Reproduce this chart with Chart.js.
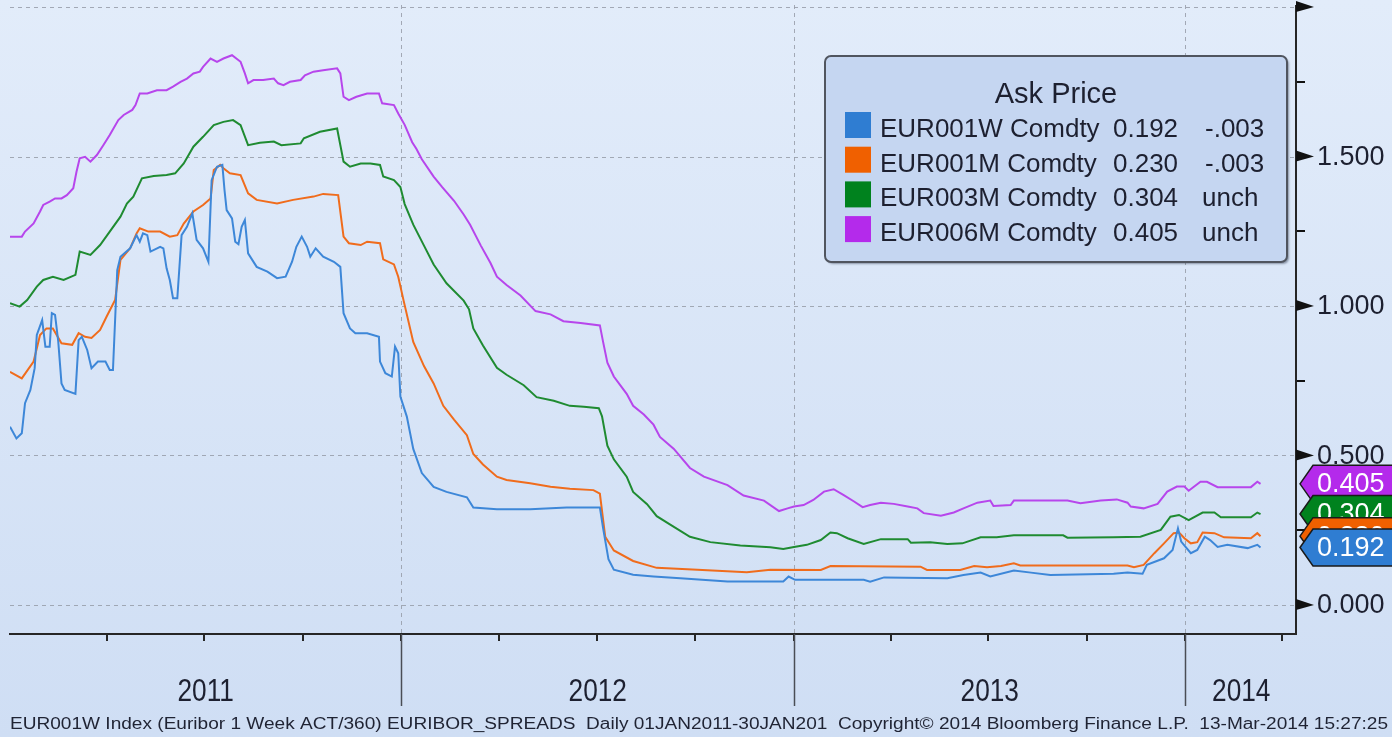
<!DOCTYPE html>
<html>
<head>
<meta charset="utf-8">
<script src="https://cdn.jsdelivr.net/npm/chart.js"></script>
<style>
  html, body { margin: 0; padding: 0; background: #dae5f7; }
  #wrap { width: 1392px; height: 737px; }
</style>
</head>
<body>
<div id="wrap"><canvas id="chart" width="1392" height="737"></canvas></div>
<script>
// x values are days counted from 1 Jan 2011
const yearStarts = [0, 365, 731, 1096];
const yearLabels = ['2011', '2012', '2013', '2014'];
const quarterDays = [0, 90, 181, 273, 365, 456, 547, 639, 731, 821, 912, 1004, 1096, 1186];
const priceTicks = [0, 0.5, 1.0, 1.5, 2.0];
const priceLabels = ['0.000', '0.500', '1.000', '1.500'];
const minorTicks = [0.25, 0.75, 1.25, 1.75];

const seriesNames = ['EUR001W Comdty', 'EUR001M Comdty', 'EUR003M Comdty', 'EUR006M Comdty'];
const lastValues = ['0.192', '0.230', '0.304', '0.405'];
const changes = ['-.003', '-.003', 'unch', 'unch'];
const lineColors = ['#3d87d8', '#f06c1c', '#1f8b31', '#b746ec'];
const tagColors = ['#2f7dd2', '#f06000', '#00821e', '#b42aeb'];

// EUR001W (1 week)
const w1Days = [0,6,11,14,19,23,25,30,33,37,39,42,45,48,51,61,64,67,72,76,82,89,93,96,100,103,112,118,121,124,128,131,140,143,146,149,152,156,160,165,170,174,180,185,188,193,198,200,202,207,210,213,216,219,222,230,240,249,257,263,267,272,277,280,285,292,302,308,311,317,322,333,344,345,350,356,359,362,364,370,376,384,395,407,426,432,454,485,519,550,553,558,563,581,600,625,669,721,726,732,796,802,815,874,889,905,914,936,952,970,1029,1042,1056,1060,1076,1084,1089,1092,1101,1107,1114,1119,1126,1135,1154,1163,1166];
const w1Vals = [0.596,0.557,0.574,0.675,0.719,0.792,0.903,0.953,0.864,0.864,0.976,0.970,0.881,0.741,0.719,0.706,0.886,0.897,0.853,0.792,0.814,0.814,0.786,0.786,1.120,1.165,1.193,1.237,1.215,1.243,1.237,1.182,1.198,1.193,1.126,1.087,1.026,1.026,1.237,1.265,1.310,1.221,1.193,1.148,1.421,1.466,1.472,1.388,1.321,1.293,1.215,1.207,1.265,1.288,1.176,1.131,1.115,1.093,1.098,1.148,1.198,1.232,1.198,1.165,1.193,1.165,1.148,1.131,0.976,0.925,0.909,0.909,0.897,0.814,0.775,0.764,0.864,0.842,0.697,0.630,0.522,0.441,0.395,0.378,0.360,0.326,0.320,0.320,0.326,0.326,0.257,0.153,0.118,0.101,0.095,0.089,0.078,0.078,0.095,0.084,0.084,0.078,0.092,0.089,0.100,0.108,0.095,0.115,0.108,0.100,0.104,0.108,0.104,0.134,0.156,0.184,0.256,0.212,0.173,0.184,0.228,0.217,0.194,0.201,0.190,0.201,0.192];

// EUR001M (1 month)
const m1Days = [0,11,22,28,34,40,48,58,64,70,76,84,90,98,103,112,118,121,129,140,149,156,162,171,180,187,190,196,199,205,215,222,230,249,264,283,292,306,311,316,327,333,345,348,358,362,367,376,386,395,404,414,426,432,441,454,463,485,504,522,544,550,555,563,581,603,641,687,709,756,765,849,855,886,899,911,924,936,942,1042,1048,1057,1067,1076,1085,1090,1095,1101,1107,1112,1123,1132,1157,1163,1166];
const m1Vals = [0.780,0.758,0.814,0.903,0.925,0.925,0.875,0.870,0.909,0.897,0.893,0.920,0.964,1.020,1.154,1.193,1.243,1.260,1.249,1.249,1.232,1.237,1.276,1.316,1.338,1.360,1.455,1.472,1.461,1.444,1.438,1.377,1.355,1.343,1.355,1.366,1.375,1.371,1.232,1.210,1.204,1.215,1.210,1.156,1.139,1.098,1.018,0.880,0.799,0.741,0.666,0.620,0.568,0.505,0.470,0.429,0.418,0.407,0.395,0.389,0.384,0.372,0.228,0.182,0.147,0.124,0.118,0.109,0.118,0.117,0.130,0.128,0.117,0.117,0.130,0.126,0.130,0.139,0.132,0.132,0.126,0.134,0.173,0.206,0.240,0.242,0.223,0.206,0.210,0.242,0.240,0.226,0.223,0.240,0.230];

// EUR003M (3 months)
const m3Days = [0,9,16,25,31,40,50,61,65,75,84,93,103,109,115,123,134,146,154,162,171,180,190,199,208,215,222,233,246,253,271,274,289,305,311,317,327,336,345,348,358,364,368,376,386,395,407,423,428,432,441,454,463,479,491,507,522,535,549,552,557,563,575,581,594,603,616,634,653,681,709,721,731,743,756,765,771,781,796,812,837,840,858,874,888,905,920,936,982,986,1029,1054,1073,1082,1090,1099,1112,1123,1129,1157,1163,1166];
const m3Vals = [1.009,0.998,1.020,1.065,1.087,1.098,1.087,1.104,1.182,1.171,1.204,1.249,1.299,1.343,1.366,1.427,1.435,1.438,1.444,1.477,1.533,1.566,1.605,1.616,1.622,1.605,1.538,1.546,1.550,1.538,1.544,1.561,1.583,1.594,1.483,1.466,1.477,1.477,1.472,1.433,1.421,1.398,1.341,1.272,1.202,1.139,1.076,1.018,0.989,0.925,0.868,0.793,0.770,0.735,0.695,0.683,0.666,0.663,0.658,0.631,0.533,0.487,0.429,0.378,0.337,0.297,0.268,0.228,0.210,0.199,0.193,0.187,0.194,0.201,0.217,0.242,0.240,0.223,0.204,0.220,0.220,0.208,0.210,0.204,0.206,0.226,0.226,0.233,0.233,0.225,0.226,0.228,0.251,0.295,0.301,0.284,0.309,0.309,0.293,0.293,0.309,0.304];

// EUR006M (6 months)
const m6Days = [0,11,14,22,28,31,37,42,48,53,59,62,65,70,75,81,87,93,101,106,114,117,121,128,137,146,152,159,165,171,177,180,187,193,199,207,215,219,222,227,236,246,250,255,261,271,275,283,292,305,308,311,316,323,333,344,347,358,362,368,375,379,384,395,403,414,423,429,439,448,454,463,476,490,504,516,532,550,553,557,563,575,581,591,600,606,619,634,647,669,684,703,717,725,731,740,749,759,768,777,787,795,802,812,824,837,846,852,868,880,889,902,914,917,933,936,986,998,1017,1032,1042,1045,1057,1070,1079,1088,1095,1099,1110,1116,1126,1157,1163,1166];
const m6Vals = [1.232,1.232,1.249,1.276,1.316,1.338,1.349,1.360,1.360,1.371,1.394,1.449,1.494,1.499,1.483,1.505,1.538,1.572,1.622,1.639,1.656,1.672,1.711,1.711,1.722,1.722,1.734,1.750,1.761,1.778,1.784,1.800,1.828,1.817,1.828,1.839,1.817,1.778,1.745,1.756,1.756,1.761,1.745,1.739,1.750,1.756,1.772,1.784,1.789,1.795,1.778,1.700,1.689,1.700,1.711,1.711,1.678,1.672,1.644,1.606,1.548,1.525,1.491,1.433,1.398,1.352,1.306,1.272,1.202,1.144,1.098,1.070,1.035,0.983,0.972,0.949,0.943,0.935,0.880,0.810,0.764,0.706,0.666,0.637,0.603,0.562,0.522,0.458,0.429,0.401,0.366,0.349,0.314,0.323,0.329,0.334,0.351,0.379,0.387,0.368,0.346,0.327,0.334,0.342,0.338,0.329,0.323,0.307,0.298,0.309,0.323,0.342,0.349,0.331,0.334,0.349,0.349,0.340,0.349,0.353,0.342,0.329,0.323,0.338,0.379,0.396,0.396,0.382,0.412,0.412,0.394,0.394,0.412,0.405];

const footerText = 'EUR001W Index (Euribor 1 Week ACT/360) EURIBOR_SPREADS  Daily 01JAN2011-30JAN201  Copyright\u00a9 2014 Bloomberg Finance L.P.  13-Mar-2014 15:27:25';

function toPoints(days, vals) {
    var pts = [];
    var n = Math.min(days.length, vals.length);
    for (var i = 0; i < n; i++) {
        pts.push({ x: days[i], y: vals[i] });
    }
    return pts;
}

const allDays = [w1Days, m1Days, m3Days, m6Days];
const allVals = [w1Vals, m1Vals, m3Vals, m6Vals];

const SANS = '"Liberation Sans", Arial, sans-serif';
const TEXT = '#1d2030';

// whole background gradient
const bgPlugin = {
    id: 'bg',
    beforeDraw(chart) {
        const c = chart.ctx;
        const g = c.createLinearGradient(0, 0, 0, chart.height);
        g.addColorStop(0, '#e2ecfa');
        g.addColorStop(1, '#cfdef4');
        c.save();
        c.fillStyle = g;
        c.fillRect(0, 0, chart.width, chart.height);
        c.restore();
    }
};

// dashed grid
const gridPlugin = {
    id: 'dashGrid',
    beforeDatasetsDraw(chart) {
        const c = chart.ctx;
        const a = chart.chartArea;
        const xs = chart.scales.x, ys = chart.scales.y;
        c.save();
        c.strokeStyle = 'rgba(150,156,168,0.85)';
        c.lineWidth = 1;
        c.setLineDash([4, 4]);
        for (const v of priceTicks) {
            const y = Math.round(ys.getPixelForValue(v)) + 0.5;
            c.beginPath(); c.moveTo(a.left, y); c.lineTo(a.right, y); c.stroke();
        }
        for (const d of yearStarts) {
            const x = Math.round(xs.getPixelForValue(d)) + 0.5;
            if (x <= a.left + 2) continue;
            c.beginPath(); c.moveTo(x, a.top); c.lineTo(x, a.bottom); c.stroke();
        }
        c.restore();
    }
};

// axes, legend box, value tags, footer
const decoPlugin = {
    id: 'deco',
    afterDatasetsDraw(chart) {
        const c = chart.ctx;
        const a = chart.chartArea;
        const xs = chart.scales.x, ys = chart.scales.y;
        c.save();

        // axis lines
        c.strokeStyle = '#262626';
        c.lineWidth = 2;
        c.beginPath();
        c.moveTo(a.left - 1, a.bottom + 1);
        c.lineTo(a.right, a.bottom + 1);
        c.moveTo(a.right - 1, a.top);
        c.lineTo(a.right - 1, a.bottom + 2);
        c.stroke();

        // quarter ticks and year separators
        c.lineWidth = 2;
        for (const d of quarterDays) {
            const x = Math.round(xs.getPixelForValue(d));
            if (x <= a.left + 2 || x >= a.right - 2) continue;
            c.strokeStyle = '#262626';
            c.beginPath(); c.moveTo(x, a.bottom + 1); c.lineTo(x, a.bottom + 8); c.stroke();
        }
        c.lineWidth = 1.5;
        c.strokeStyle = '#4a4d55';
        for (const d of yearStarts) {
            const x = Math.round(xs.getPixelForValue(d)) + 0.5;
            if (x <= a.left + 2) continue;
            c.beginPath(); c.moveTo(x, a.bottom + 1); c.lineTo(x, a.bottom + 73); c.stroke();
        }

        // year labels
        c.fillStyle = TEXT;
        c.textAlign = 'center';
        c.textBaseline = 'alphabetic';
        for (var i = 0; i < yearLabels.length; i++) {
            const x0 = xs.getPixelForValue(yearStarts[i]);
            const x1 = i + 1 < yearStarts.length ? xs.getPixelForValue(yearStarts[i + 1]) : a.right;
            const cx = (x0 + x1) / 2;
            c.save();
            c.translate(cx, a.bottom + 68);
            c.scale(0.82, 1);
            c.font = '32px ' + SANS;
            c.fillText(yearLabels[i], 0, 0);
            c.restore();
        }

        // right axis: triangles, minor ticks, labels
        c.fillStyle = '#111';
        for (const v of priceTicks) {
            const y = ys.getPixelForValue(v);
            c.beginPath();
            c.moveTo(a.right - 1, y - 6);
            c.lineTo(a.right + 17, y);
            c.lineTo(a.right - 1, y + 5);
            c.closePath();
            c.fill();
        }
        c.strokeStyle = '#111';
        c.lineWidth = 2;
        for (const v of minorTicks) {
            const y = Math.round(ys.getPixelForValue(v));
            c.beginPath(); c.moveTo(a.right, y); c.lineTo(a.right + 8, y); c.stroke();
        }
        c.fillStyle = TEXT;
        c.textAlign = 'left';
        c.textBaseline = 'middle';
        c.font = '27px ' + SANS;
        for (var i = 0; i < priceLabels.length; i++) {
            c.fillText(priceLabels[i], a.right + 20, ys.getPixelForValue(priceTicks[i]) + 1);
        }

        // value tags, back to front
        for (const i of [3, 2, 1, 0]) {
            const vals = allVals[i];
            const y = ys.getPixelForValue(vals[vals.length - 1]);
            const x = a.right + 3;
            c.beginPath();
            c.moveTo(x, y);
            c.lineTo(x + 13, y - 18.5);
            c.lineTo(chart.width + 4, y - 18.5);
            c.lineTo(chart.width + 4, y + 18.5);
            c.lineTo(x + 13, y + 18.5);
            c.closePath();
            c.fillStyle = tagColors[i];
            c.fill();
            c.strokeStyle = '#1a1a1a';
            c.lineWidth = 1.5;
            c.stroke();
            c.fillStyle = '#ffffff';
            c.font = '27px ' + SANS;
            c.textBaseline = 'middle';
            c.fillText(lastValues[i], x + 17, y + 1);
        }

        // legend box
        const bx = 825, by = 56, bw = 462, bh = 206;
        c.save();
        c.shadowColor = 'rgba(40,50,70,0.45)';
        c.shadowOffsetX = 2;
        c.shadowOffsetY = 2;
        c.shadowBlur = 2;
        c.beginPath();
        c.roundRect(bx, by, bw, bh, 6);
        c.fillStyle = '#c5d6f1';
        c.fill();
        c.restore();
        c.beginPath();
        c.roundRect(bx, by, bw, bh, 6);
        c.strokeStyle = '#50555f';
        c.lineWidth = 2;
        c.stroke();

        c.fillStyle = TEXT;
        c.textAlign = 'center';
        c.textBaseline = 'alphabetic';
        c.font = '29px ' + SANS;
        c.fillText('Ask Price', bx + bw / 2, by + 47);
        c.textAlign = 'left';
        c.font = '26px ' + SANS;
        for (var i = 0; i < seriesNames.length; i++) {
            const rowY = by + 56 + i * 34.7;
            c.fillStyle = tagColors[i];
            c.fillRect(bx + 20, rowY, 26, 26);
            c.fillStyle = TEXT;
            const base = rowY + 25;
            c.fillText(seriesNames[i], bx + 55, base);
            c.fillText(lastValues[i], bx + 288, base);
            c.fillText(changes[i], bx + (changes[i] == 'unch' ? 377 : 380), base);
        }

        // footer line
        c.font = '16px ' + SANS;
        const fw = c.measureText(footerText).width;
        c.save();
        c.translate(10, 729);
        c.scale(1378 / fw, 1);
        c.fillStyle = '#1f2333';
        c.fillText(footerText, 0, 0);
        c.restore();

        c.restore();
    }
};

const ctx = document.getElementById('chart');

const chart = new Chart(ctx, {
    type: 'line',
    data: {
        datasets: seriesNames.map((name, i) => ({
            label: name,
            data: toPoints(allDays[i], allVals[i]),
            borderColor: lineColors[i],
            backgroundColor: lineColors[i],
            borderWidth: 2,
            pointRadius: 0,
            tension: 0,
            fill: false
        }))
    },
    options: {
        responsive: false,
        animation: false,
        devicePixelRatio: 1,
        layout: { padding: { left: 10, top: 5, right: 0, bottom: 0 } },
        scales: {
            x: {
                type: 'linear',
                min: 0,
                max: 1200,
                afterFit: s => { s.height = 104; },
                ticks: { display: false },
                grid: { display: false },
                border: { display: false }
            },
            y: {
                type: 'linear',
                position: 'right',
                min: -0.094,
                max: 2.007,
                afterFit: s => { s.width = 95; },
                ticks: { display: false },
                grid: { display: false },
                border: { display: false }
            }
        },
        plugins: {
            legend: { display: false },
            title: { display: false },
            tooltip: { enabled: false }
        }
    },
    plugins: [bgPlugin, gridPlugin, decoPlugin]
});
</script>
</body>
</html>
